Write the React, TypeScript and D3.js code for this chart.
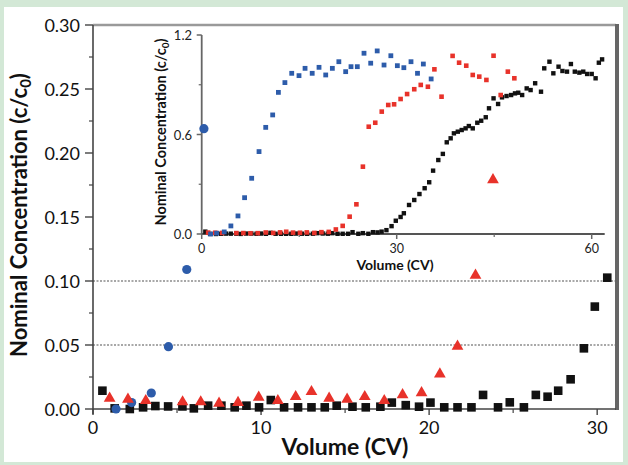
import React from 'react';
import * as d3 from 'd3';

// ---- Data (main panel, c/c0 vs Volume CV) ----
const blueX = [1.37, 2.3, 3.47, 4.49, 5.58, 6.6];
const blueY = [0.0, 0.005, 0.0125, 0.0487, 0.109, 0.219];

const redX = [0.99, 2.08, 3.14, 5.33, 6.41, 7.5, 8.63, 9.86, 11.0, 12.06, 13.0, 14.05, 15.12, 16.17, 17.33, 18.42, 19.55, 20.64, 21.69, 22.76, 23.8];
const redY = [0.0083, 0.0075, 0.0065, 0.0055, 0.0055, 0.0045, 0.005, 0.0091, 0.0065, 0.0096, 0.0135, 0.0083, 0.0076, 0.0096, 0.0065, 0.011, 0.0127, 0.0273, 0.049, 0.1045, 0.179];

const blackX = [0.56, 1.29, 2.19, 2.98, 3.71, 4.47, 5.32, 6.0, 6.85, 7.64, 8.43, 9.13, 9.88, 10.58, 11.37, 12.2, 13.0, 13.79, 14.5, 15.44, 16.23, 17.1, 17.78, 18.61, 19.4, 20.08, 20.9, 21.69, 22.52, 23.21, 24.1, 24.8, 25.64, 26.35, 27.05, 27.68, 28.42, 29.21, 29.86, 30.6];
const blackY = [0.0143, 0.0005, 0.0, 0.0013, 0.0023, 0.002, 0.002, 0.0005, 0.0026, 0.0026, 0.0013, 0.0026, 0.0013, 0.007, 0.0013, 0.0013, 0.0013, 0.0013, 0.0026, 0.0018, 0.0013, 0.0018, 0.005, 0.003, 0.0018, 0.005, 0.0013, 0.0013, 0.0013, 0.011, 0.0013, 0.0052, 0.0013, 0.011, 0.0096, 0.0143, 0.0232, 0.0474, 0.08, 0.1026];

// ---- Continuation of the same series, only visible in the inset ----
const blueTailX = [7.69, 8.82, 9.85, 10.92, 11.8, 12.8, 13.85, 14.97, 15.9, 17.0, 18.05, 19.08, 20.1, 21.1, 22.15, 22.97, 23.94, 24.97, 26.0, 27.0, 28.05, 29.1, 30.1, 31.1, 32.2, 33.2, 34.1, 35.3];
const blueTailY = [0.336, 0.497, 0.643, 0.718, 0.854, 0.913, 0.969, 0.955, 0.999, 0.969, 1.005, 0.959, 0.999, 1.039, 0.979, 1.009, 1.009, 1.09, 1.03, 1.104, 1.019, 1.075, 1.015, 1.003, 1.039, 0.969, 1.025, 0.935];

const redTailX = [24.8, 25.7, 26.7, 27.7, 28.7, 29.6, 30.6, 31.6, 32.7, 33.7, 34.8, 35.8, 36.9, 38.6, 39.6, 40.7, 41.7, 42.7, 43.8, 44.9, 46.0, 47.1, 48.1];
const redTailY = [0.406, 0.647, 0.671, 0.738, 0.778, 0.782, 0.814, 0.844, 0.873, 0.899, 0.888, 0.993, 0.828, 1.074, 1.033, 1.015, 0.959, 0.949, 0.929, 1.075, 0.838, 0.979, 0.939];

const blackTailX = [31.1, 31.9, 32.7, 33.5, 34.3, 35.0, 35.6, 36.4, 37.1, 37.7, 38.3, 38.8, 39.4, 40.0, 40.6, 41.1, 41.7, 42.4, 43.0, 43.7, 44.2, 44.9, 45.6, 46.2, 46.9, 47.6, 48.2, 48.7, 49.3, 50.0, 50.6, 51.3, 52.2, 52.7, 53.5, 54.1, 54.9, 55.5, 56.2, 56.8, 57.4, 58.1, 58.7, 59.3, 60.0, 60.6, 61.1, 61.6];
const blackTailY = [0.125, 0.175, 0.205, 0.241, 0.276, 0.312, 0.382, 0.446, 0.483, 0.553, 0.577, 0.607, 0.617, 0.627, 0.637, 0.651, 0.637, 0.671, 0.683, 0.704, 0.758, 0.818, 0.784, 0.824, 0.832, 0.838, 0.848, 0.852, 0.838, 0.878, 0.868, 0.909, 0.858, 0.999, 1.039, 0.969, 1.009, 0.983, 0.979, 1.025, 0.979, 0.973, 0.979, 0.965, 0.965, 0.939, 1.033, 1.053];

// ---- Ticks ----
const mainYTicks = [0, 0.05, 0.1, 0.15, 0.2, 0.25, 0.3];
const mainYMinor = [0.025, 0.075, 0.125, 0.175, 0.225, 0.275];
const mainXTicks = [0, 10, 20, 30];
const mainXMinor = [5, 15, 25];
const refLines = [0.05, 0.1];
const insetXTicks = [0, 30, 60];
const insetXMinor = [15, 45];
const insetYTicks = [0, 0.6, 1.2];
const insetYMinor = [0.3, 0.9];

const BLUE = '#2d5caa';
const RED = '#e8322a';
const BLACK = '#111111';
const FONT = 'Lato, "Open Sans", sans-serif';

const zip = (xs: number[], ys: number[]) => xs.map((v, i) => [v, ys[i]] as [number, number]);

export default function App() {
  const x = d3.scaleLinear().domain([0, 31.12]).range([93, 616]);
  const y = d3.scaleLinear().domain([0, 0.3]).range([409, 25]);
  const ix = d3.scaleLinear().domain([0, 62]).range([201.7, 604.7]);
  const iy = d3.scaleLinear().domain([0, 1.2]).range([234, 35]);

  const tri = d3.symbol().type(d3.symbolTriangle).size(60)() as string;

  const mBlue = zip(blueX, blueY);
  const mRed = zip(redX, redY);
  const mBlack = zip(blackX, blackY);
  const iBlue = zip(blueX.concat(blueTailX), blueY.concat(blueTailY));
  const iRed = zip(redX.concat(redTailX), redY.concat(redTailY));
  const iBlack = zip(blackX.concat(blackTailX), blackY.concat(blackTailY));

  const [x0, x1] = x.range();
  const [y0, y1] = y.range();
  const [ix0, ix1] = ix.range();
  const [iy0, iy1] = iy.range();

  return (
    <svg width={628} height={465} style={{ position: 'absolute', left: 0, top: 0 }} fontFamily={FONT}>
      <rect x={0} y={0} width={628} height={465} fill="#d3e8d6" />
      <rect x={4} y={7} width={619} height={455} fill="#ffffff" />

      {/* reference dotted lines */}
      {refLines.map((v) => (
        <line key={v} x1={x0} x2={x1} y1={y(v)} y2={y(v)} stroke="#a8a8a8" strokeWidth={2} strokeDasharray="2,1.5" />
      ))}

      {/* ---------- inset ---------- */}
      <g>
        <line x1={ix0} x2={ix0} y1={iy0} y2={iy1} stroke="#666" strokeWidth={1.8} />
        <line x1={ix0} x2={ix1} y1={iy0} y2={iy0} stroke="#555" strokeWidth={1.8} />
        {insetYTicks.map((t) => (
          <g key={t}>
            <line x1={ix0 - 5} x2={ix0} y1={iy(t)} y2={iy(t)} stroke="#666" strokeWidth={1.5} />
            <text x={192} y={iy(t)} textAnchor="end" dominantBaseline="central" fontSize={13} fill="#222">{t.toFixed(1)}</text>
          </g>
        ))}
        {insetYMinor.map((t) => (
          <line key={t} x1={ix0 - 3} x2={ix0} y1={iy(t)} y2={iy(t)} stroke="#666" strokeWidth={1.2} />
        ))}
        {insetXTicks.map((t) => (
          <g key={t}>
            <line x1={ix(t)} x2={ix(t)} y1={iy0} y2={iy0 + 5} stroke="#666" strokeWidth={1.5} />
            <text x={ix(t)} y={253} textAnchor="middle" fontSize={12.5} fill="#222">{t}</text>
          </g>
        ))}
        {insetXMinor.map((t) => (
          <line key={t} x1={ix(t)} x2={ix(t)} y1={iy0} y2={iy0 + 3} stroke="#666" strokeWidth={1.2} />
        ))}
        <text x={395} y={270} textAnchor="middle" fontSize={14} fontWeight="bold" fill="#111">Volume (CV)</text>
        <text transform="translate(166,132) rotate(-90)" textAnchor="middle" fontSize={14.5} fontWeight="bold" fill="#111">
          Nominal Concentration (c/c<tspan fontSize={10} dy={3}>0</tspan><tspan dy={-3}>)</tspan>
        </text>
        {iBlack.map(([a, b], i) => (
          <rect key={'ik' + i} x={ix(a) - 2.2} y={iy(b) - 2.2} width={4.4} height={4.4} fill={BLACK} />
        ))}
        {iRed.map(([a, b], i) => (
          <rect key={'ir' + i} x={ix(a) - 2.3} y={iy(b) - 2.3} width={4.6} height={4.6} fill={RED} />
        ))}
        {iBlue.map(([a, b], i) => (
          <rect key={'ib' + i} x={ix(a) - 2.4} y={iy(b) - 2.4} width={4.8} height={4.8} fill={BLUE} />
        ))}
      </g>

      {/* ---------- main frame & axes ---------- */}
      <line x1={x0} x2={x1} y1={y1} y2={y1} stroke="#9a9a9a" strokeWidth={2.5} />
      <line x1={x1 + 1} x2={x1 + 1} y1={y1 - 1} y2={y0 + 1} stroke="#666" strokeWidth={4} />
      <line x1={x0} x2={x0} y1={y1} y2={y0 + 5} stroke="#444" strokeWidth={1.6} />
      <line x1={x0} x2={x1} y1={y0} y2={y0} stroke="#444" strokeWidth={1.6} />
      {mainYTicks.map((t) => (
        <g key={t}>
          <line x1={x0 - 8} x2={x0} y1={y(t)} y2={y(t)} stroke="#444" strokeWidth={1.4} />
          <text x={80} y={y(t)} textAnchor="end" dominantBaseline="central" fontSize={18} fill="#111">{t.toFixed(2)}</text>
        </g>
      ))}
      {mainYMinor.map((t) => (
        <line key={t} x1={x0 - 4} x2={x0} y1={y(t)} y2={y(t)} stroke="#444" strokeWidth={1.2} />
      ))}
      {mainXTicks.map((t) => (
        <g key={t}>
          <line x1={x(t)} x2={x(t)} y1={y0} y2={y0 + 6} stroke="#444" strokeWidth={1.4} />
          <text x={x(t)} y={433.5} textAnchor="middle" fontSize={18} fill="#111">{t}</text>
        </g>
      ))}
      {mainXMinor.map((t) => (
        <line key={t} x1={x(t)} x2={x(t)} y1={y0} y2={y0 + 4} stroke="#444" strokeWidth={1.2} />
      ))}
      <text x={345} y={455} textAnchor="middle" fontSize={23} fontWeight="bold" fill="#111">Volume (CV)</text>
      <text transform="translate(27,215) rotate(-90)" textAnchor="middle" fontSize={22} fontWeight="bold" fill="#111">
        Nominal Concentration (c/c<tspan fontSize={15} dy={4}>0</tspan><tspan dy={-4}>)</tspan>
      </text>

      {/* ---------- main series ---------- */}
      {mBlack.map(([a, b], i) => (
        <rect key={'k' + i} x={x(a) - 4.3} y={y(b) - 4.3} width={8.6} height={8.6} fill={BLACK} />
      ))}
      {mBlue.map(([a, b], i) => (
        <circle key={'b' + i} cx={x(a)} cy={y(b)} r={4.6} fill={BLUE} />
      ))}
      {mRed.map(([a, b], i) => (
        <path key={'r' + i} d={tri} transform={`translate(${x(a)},${y(b)})`} fill={RED} />
      ))}
    </svg>
  );
}
